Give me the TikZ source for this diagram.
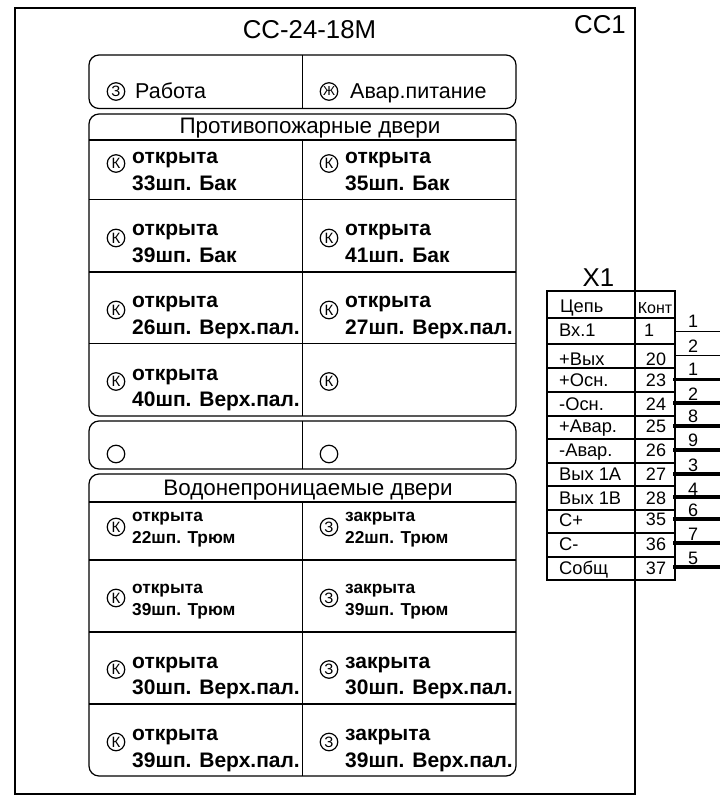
\documentclass[tikz,border=0pt]{standalone}
\usepackage{fontspec}
\setmainfont{Liberation Sans}
\tikzset{
  frameline/.style={line width=2pt},
  panel/.style={line width=1.2pt,rounded corners=10pt},
  rowline/.style={line width=1.2pt},
  gridline/.style={line width=2pt},
  thinwire/.style={line width=1.2pt},
  thickwire/.style={line width=3.2pt},
  bigtext/.style={anchor=base,inner sep=0pt,font=\fontsize{25.8}{25.8}\selectfont},
  headtext/.style={anchor=base,inner sep=0pt,font=\fontsize{22.4}{22.4}\selectfont},
  lamptext/.style={anchor=base west,inner sep=0pt,font=\fontsize{21.5}{21.5}\selectfont},
  doortext/.style={anchor=base west,inner sep=0pt,font=\fontsize{21}{21}\bfseries\selectfont},
  smalldoor/.style={anchor=base west,inner sep=0pt,font=\fontsize{17.3}{17.3}\bfseries\selectfont},
  celltext/.style={anchor=base west,inner sep=0pt,font=\fontsize{18.3}{18.3}\selectfont},
  conttext/.style={anchor=base,inner sep=0pt,font=\fontsize{18}{18}\selectfont},
  wiretext/.style={anchor=base,inner sep=0pt,font=\fontsize{18}{18}\selectfont},
  lamp/.style={circle,draw,line width=1.2pt,minimum size=17.5pt,inner sep=0pt,font=\fontsize{15}{15}\selectfont},
}
\begin{document}
\begin{tikzpicture}[x=1pt,y=-1pt]
\useasboundingbox (0,0) rectangle (720,795);
% frame
\draw[frameline] (15,8) rectangle (634.5,794);
\draw (309.5,38) node[bigtext] (title) {СС-24-18М};
\draw (600,33) node[bigtext] (cc1) {СС1};
% panel with power lamps
\draw[panel] (89,55) rectangle (516,108.5);
\draw[rowline] (302.5,55) -- (302.5,108.5);
\draw (116,91.5) node[lamp] (lampwork) {З};
\draw (135,98) node[lamptext] (textwork) {Работа};
\draw (329,91.5) node[lamp,font=\fontsize{13}{13}\selectfont] (lamppower) {Ж};
\draw (350,98) node[lamptext] (textpower) {Авар.питание};
% fire doors
\draw[panel] (89,114) rectangle (516,416);
\draw (310,133) node[headtext] (firehead) {Противопожарные двери};
\draw[rowline] (89,140) -- (516,140);
\draw[rowline] (89,199.5) -- (516,199.5);
\draw[rowline] (89,272) -- (516,272);
\draw[rowline] (89,343.5) -- (516,343.5);
\draw[rowline] (302.5,140) -- (302.5,416);
\draw (116,163.5) node[lamp] (lamp33) {К};
\draw (132,163) node[doortext] (open33) {открыта};
\draw (132,190) node[doortext] (name33) {33шп. Бак};
\draw (329,163.5) node[lamp] (lamp35) {К};
\draw (345,163) node[doortext] (open35) {открыта};
\draw (345,190) node[doortext] (name35) {35шп. Бак};
\draw (116,238) node[lamp] (lamp39) {К};
\draw (132,235) node[doortext] (open39) {открыта};
\draw (132,262) node[doortext] (name39) {39шп. Бак};
\draw (329,238) node[lamp] (lamp41) {К};
\draw (345,235) node[doortext] (open41) {открыта};
\draw (345,262) node[doortext] (name41) {41шп. Бак};
\draw (116,310) node[lamp] (lamp26) {К};
\draw (132,307) node[doortext] (open26) {открыта};
\draw (132,334) node[doortext] (name26) {26шп. Верх.пал.};
\draw (329,310) node[lamp] (lamp27) {К};
\draw (345,307) node[doortext] (open27) {открыта};
\draw (345,334) node[doortext] (name27) {27шп. Верх.пал.};
\draw (116,381.5) node[lamp] (lamp40) {К};
\draw (132,380) node[doortext] (open40) {открыта};
\draw (132,406) node[doortext] (name40) {40шп. Верх.пал.};
\draw (329,381.5) node[lamp] (lampfree) {К};
% empty panel
\draw[panel] (89,421) rectangle (516,469);
\draw[rowline] (302.5,421) -- (302.5,469);
\draw (116,454) node[lamp] (lampa) {};
\draw (329,454) node[lamp] (lampb) {};
% watertight doors
\draw[panel] (89,474) rectangle (516,776);
\draw (308,495) node[headtext] (waterhead) {Водонепроницаемые двери};
\draw[rowline] (89,502) -- (516,502);
\draw[rowline] (89,560) -- (516,560);
\draw[rowline] (89,632) -- (516,632);
\draw[rowline] (89,704) -- (516,704);
\draw[rowline] (302.5,502) -- (302.5,776);
\draw (116,527) node[lamp] (lampo22) {К};
\draw (132,521) node[smalldoor] (open22) {открыта};
\draw (132,543) node[smalldoor] (name22) {22шп. Трюм};
\draw (329,527) node[lamp] (lampc22) {З};
\draw (345,521) node[smalldoor] (shut22) {закрыта};
\draw (345,543) node[smalldoor] (nams22) {22шп. Трюм};
\draw (116,598) node[lamp] (lampo39) {К};
\draw (132,593) node[smalldoor] (openb39) {открыта};
\draw (132,615) node[smalldoor] (nameb39) {39шп. Трюм};
\draw (329,598) node[lamp] (lampc39) {З};
\draw (345,593) node[smalldoor] (shut39) {закрыта};
\draw (345,615) node[smalldoor] (nams39) {39шп. Трюм};
\draw (116,669.5) node[lamp] (lampo30) {К};
\draw (132,668) node[doortext] (open30) {открыта};
\draw (132,694.5) node[doortext] (name30) {30шп. Верх.пал.};
\draw (329,669.5) node[lamp] (lampc30) {З};
\draw (345,668) node[doortext] (shut30) {закрыта};
\draw (345,694.5) node[doortext] (nams30) {30шп. Верх.пал.};
\draw (116,742) node[lamp] (lampov39) {К};
\draw (132,740) node[doortext] (openv39) {открыта};
\draw (132,767) node[doortext] (namev39) {39шп. Верх.пал.};
\draw (329,742) node[lamp] (lampcv39) {З};
\draw (345,740) node[doortext] (shutv39) {закрыта};
\draw (345,767) node[doortext] (namsv39) {39шп. Верх.пал.};
% connector X1
\draw (598.5,286.7) node[bigtext] (x1) {X1};
\draw[gridline] (547,291) rectangle (675,580);
\draw[gridline] (547,318) -- (675,318);
\draw[gridline] (547,344) -- (675,344);
\draw[gridline] (547,368) -- (675,368);
\draw[gridline] (547,392) -- (675,392);
\draw[gridline] (547,415.5) -- (675,415.5);
\draw[gridline] (547,439) -- (675,439);
\draw[gridline] (547,462.5) -- (675,462.5);
\draw[gridline] (547,486) -- (675,486);
\draw[gridline] (547,510) -- (675,510);
\draw[gridline] (547,533) -- (675,533);
\draw[gridline] (547,557) -- (675,557);
\draw (560,312.7) node[celltext] (chain) {Цепь};
\draw (559,336.7) node[celltext] (chain1) {Вх.1};
\draw (559,365) node[celltext] (chain20) {+Вых};
\draw (559,386) node[celltext] (chain23) {+Осн.};
\draw (559,410) node[celltext] (chain24) {-Осн.};
\draw (559,432.7) node[celltext] (chain25) {+Авар.};
\draw (559,456.7) node[celltext] (chain26) {-Авар.};
\draw (559,480) node[celltext] (chain27) {Вых 1А};
\draw (559,504) node[celltext] (chain28) {Вых 1В};
\draw (559,526) node[celltext] (chain35) {С+};
\draw (559,550) node[celltext] (chain36) {С-};
\draw (559,574) node[celltext] (chain37) {Собщ};
\draw (655,313) node[conttext,font=\fontsize{16}{16}\selectfont] (cont) {Конт};
\draw (649,336.7) node[conttext] (cont1) {1};
\draw (656,365) node[conttext] (cont20) {20};
\draw (656,386) node[conttext] (cont23) {23};
\draw (656,410) node[conttext] (cont24) {24};
\draw (656,432.7) node[conttext] (cont25) {25};
\draw (656,456.7) node[conttext] (cont26) {26};
\draw (656,480) node[conttext] (cont27) {27};
\draw (656,504) node[conttext] (cont28) {28};
\draw (656,525) node[conttext] (cont35) {35};
\draw (656,550) node[conttext] (cont36) {36};
\draw (656,574) node[conttext] (cont37) {37};
% wires
\coordinate (a1) at (675,331.5);
\coordinate (b1) at (720,331.5);
\coordinate (a20) at (675,355.5);
\coordinate (b20) at (720,355.5);
\coordinate (a23) at (673,379.5);
\coordinate (b23) at (720,379.5);
\coordinate (a24) at (673,403);
\coordinate (b24) at (720,403);
\coordinate (a25) at (673,426);
\coordinate (b25) at (720,426);
\coordinate (a26) at (673,450);
\coordinate (b26) at (720,450);
\coordinate (a27) at (673,474);
\coordinate (b27) at (720,474);
\coordinate (a28) at (673,497);
\coordinate (b28) at (720,497);
\coordinate (a35) at (673,519);
\coordinate (b35) at (720,519);
\coordinate (a36) at (673,543);
\coordinate (b36) at (720,543);
\coordinate (a37) at (673,567);
\coordinate (b37) at (720,567);
\draw[thinwire] (a1) -- (b1);
\draw[thinwire] (a20) -- (b20);
\draw[thickwire] (a23) -- (b23);
\draw[thickwire] (a24) -- (b24);
\draw[thickwire] (a25) -- (b25);
\draw[thickwire] (a26) -- (b26);
\draw[thickwire] (a27) -- (b27);
\draw[thickwire] (a28) -- (b28);
\draw[thickwire] (a35) -- (b35);
\draw[thickwire] (a36) -- (b36);
\draw[thickwire] (a37) -- (b37);
\draw (693,327) node[wiretext] (num1) {1};
\draw (693,352.7) node[wiretext] (num20) {2};
\draw (693,375) node[wiretext] (num23) {1};
\draw (693,400) node[wiretext] (num24) {2};
\draw (693,422.7) node[wiretext] (num25) {8};
\draw (693,446.7) node[wiretext] (num26) {9};
\draw (693,471.7) node[wiretext] (num27) {3};
\draw (693,495) node[wiretext] (num28) {4};
\draw (693,516.7) node[wiretext] (num35) {6};
\draw (693,540) node[wiretext] (num36) {7};
\draw (693,564) node[wiretext] (num37) {5};
\end{tikzpicture}
\end{document}
